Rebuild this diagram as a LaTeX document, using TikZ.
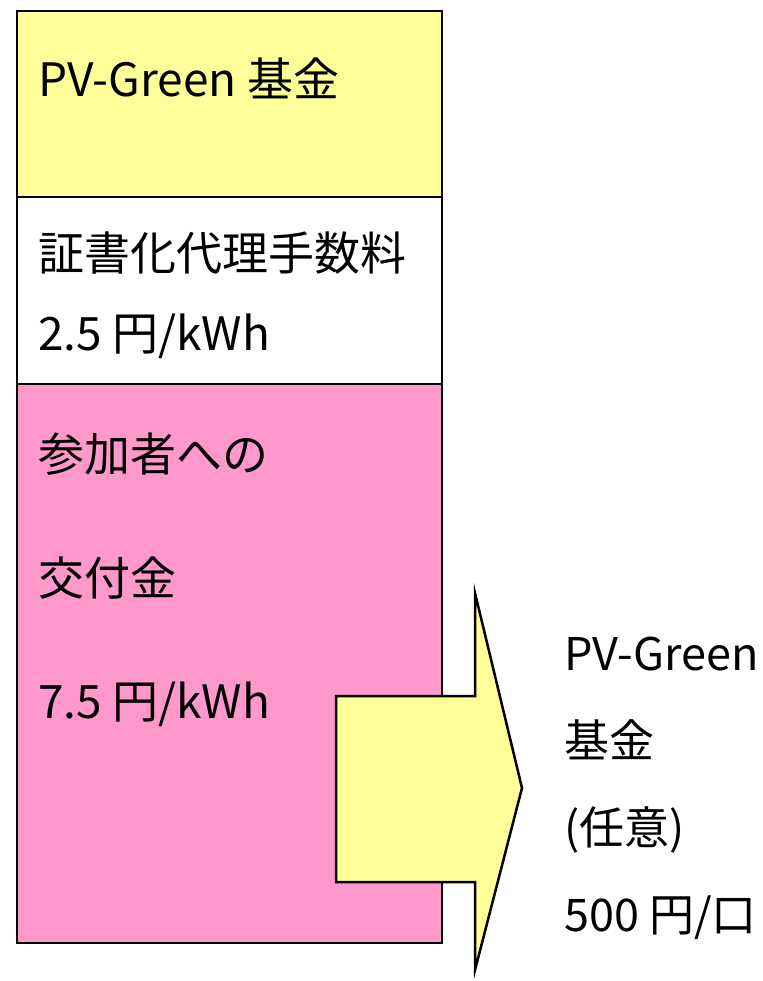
\documentclass[tikz,border=0pt]{standalone}
\usepackage{fontspec}
\setmainfont{Noto Sans CJK JP}
\definecolor{fundyellow}{HTML}{FFFF99}
\definecolor{grantpink}{HTML}{FF99CC}
\tikzset{boxtext/.style={anchor=base west, inner sep=0pt, font=\fontsize{46}{46}\selectfont}}
\begin{document}
\begin{tikzpicture}[x=1pt, y=-1pt, line width=2.5pt]
    \useasboundingbox (0,0) rectangle (762,981);
    % stacked price boxes
    \filldraw [fill=fundyellow] (17,11) rectangle (442,197);
    \filldraw [fill=white] (17,197) rectangle (442,384);
    \filldraw [fill=grantpink] (17,384) rectangle (442,943);
    % block arrow
    \filldraw [fill=fundyellow, line join=miter] (336,696) -- (475,696) -- (475,593) -- (522,788)
        -- (475,970) -- (475,882) -- (336,882) -- cycle;

    \node [boxtext] (fund) at (37,97) {PV-Green 基金};
    \node [boxtext] (fee) at (37,270) {証書化代理手数料};
    \node [boxtext] (feeval) at (37,350) {2.5 円/kWh};
    \node [boxtext] (grant) at (37,471) {参加者への};
    \node [boxtext] (grant2) at (37,595) {交付金};
    \node [boxtext] (grantval) at (37,718) {7.5 円/kWh};
    \foreach \t [count=\i] in {PV-Green, 基金, (任意), 500 円/口}
        \node [boxtext, font=\fontsize{45}{45}\selectfont] (opt\i) at (563,{583+87*\i}) {\t};
\end{tikzpicture}
\end{document}
